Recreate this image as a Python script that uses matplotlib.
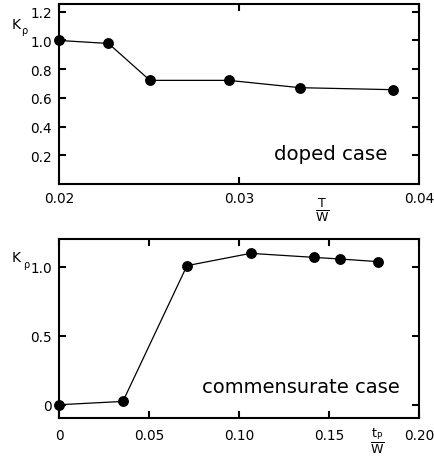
import matplotlib
matplotlib.use("Agg")
import matplotlib.pyplot as plt

# Top panel: doped case
doped_T_over_W = [0.0200, 0.02275, 0.02505, 0.02943, 0.03339, 0.03857]
doped_K = [1.000, 0.979, 0.722, 0.722, 0.671, 0.657]

# Bottom panel: commensurate case
comm_tp_over_W = [0.0, 0.0355, 0.0711, 0.1064, 0.1417, 0.1562, 0.1775]
comm_K = [0.0, 0.024, 1.007, 1.096, 1.067, 1.055, 1.036]

top_xticks = [0.02, 0.03, 0.04]
top_xticklabels = ["0.02", "0.03", "0.04"]
top_yticks = [0.2, 0.4, 0.6, 0.8, 1.0, 1.2]
top_yticklabels = ["0.2", "0.4", "0.6", "0.8", "1.0", "1.2"]
bot_xticks = [0.0, 0.05, 0.10, 0.15, 0.20]
bot_xticklabels = ["0", "0.05", "0.10", "0.15", "0.20"]
bot_yticks = [0.0, 0.5, 1.0]
bot_yticklabels = ["0", "0.5", "1.0"]

plt.rcParams['font.family'] = ['DejaVu Sans']
plt.rcParams['mathtext.fontset'] = 'dejavusans'

W, H = 435, 460
fig = plt.figure(figsize=(W / 100, H / 100), dpi=100)

def box(l, t, r, b):
    return [l / W, 1 - b / H, (r - l) / W, (b - t) / H]

ax1 = fig.add_axes(box(59, 5, 419, 185))
ax2 = fig.add_axes(box(59, 240, 419, 419))

def style(ax):
    for s in ax.spines.values():
        s.set_linewidth(1.5)
    ax.tick_params(direction='in', length=5, width=1.5, top=True, right=True,
                   labelsize=9.8, pad=5)

ax1.plot(doped_T_over_W, doped_K, '-', color='black', lw=0.9,
         marker='o', markersize=6.8, markerfacecolor='black', clip_on=False, zorder=3)
ax1.set_xlim(0.02, 0.04)
ax1.set_ylim(0.0, 1.254)
ax1.set_xticks(top_xticks)
ax1.set_xticklabels(top_xticklabels)
ax1.set_yticks(top_yticks)
ax1.set_yticklabels(top_yticklabels)
style(ax1)
ax1.text((387 - 59) / 360, 0.172, "doped case", transform=ax1.transAxes, fontsize=14.2,
         ha='right', va='center')

ax2.plot(comm_tp_over_W, comm_K, '-', color='black', lw=0.9,
         marker='o', markersize=6.8, markerfacecolor='black', clip_on=False, zorder=3)
ax2.set_xlim(0.0, 0.20)
ax2.set_ylim(-0.096, 1.2)
ax2.set_xticks(bot_xticks)
ax2.set_xticklabels(bot_xticklabels)
ax2.set_yticks(bot_yticks)
ax2.set_yticklabels(bot_yticklabels)
style(ax2)
ax2.tick_params(axis='x', pad=7)
ax2.text((400 - 59) / 360, (419 - 388) / 179, "commensurate case", transform=ax2.transAxes,
         fontsize=14.0, ha='right', va='center')

# y labels K_rho
fig.text(12 / W, 1 - 29 / H, "K", fontsize=10, ha='left', va='baseline')
fig.text(21 / W, 1 - 34 / H, "ρ", fontsize=7, ha='left', va='baseline')
fig.text(12 / W, 1 - 262 / H, "K", fontsize=10, ha='left', va='baseline')
fig.text(23 / W, 1 - 268 / H, "ρ", fontsize=7, ha='left', va='baseline')

# x labels as fractions
ax1.set_xlabel(r"$\frac{\mathrm{T}}{\mathrm{W}}$", fontsize=13)
ax1.xaxis.set_label_coords((322 - 59) / 360, -(196 - 185) / 180)
ax2.set_xlabel(r"$\frac{\mathrm{t}_{\mathrm{P}}}{\mathrm{W}}$", fontsize=13)
ax2.xaxis.set_label_coords((377 - 59) / 360, -(426 - 419) / 179)

fig.savefig("out.png", dpi=100)
